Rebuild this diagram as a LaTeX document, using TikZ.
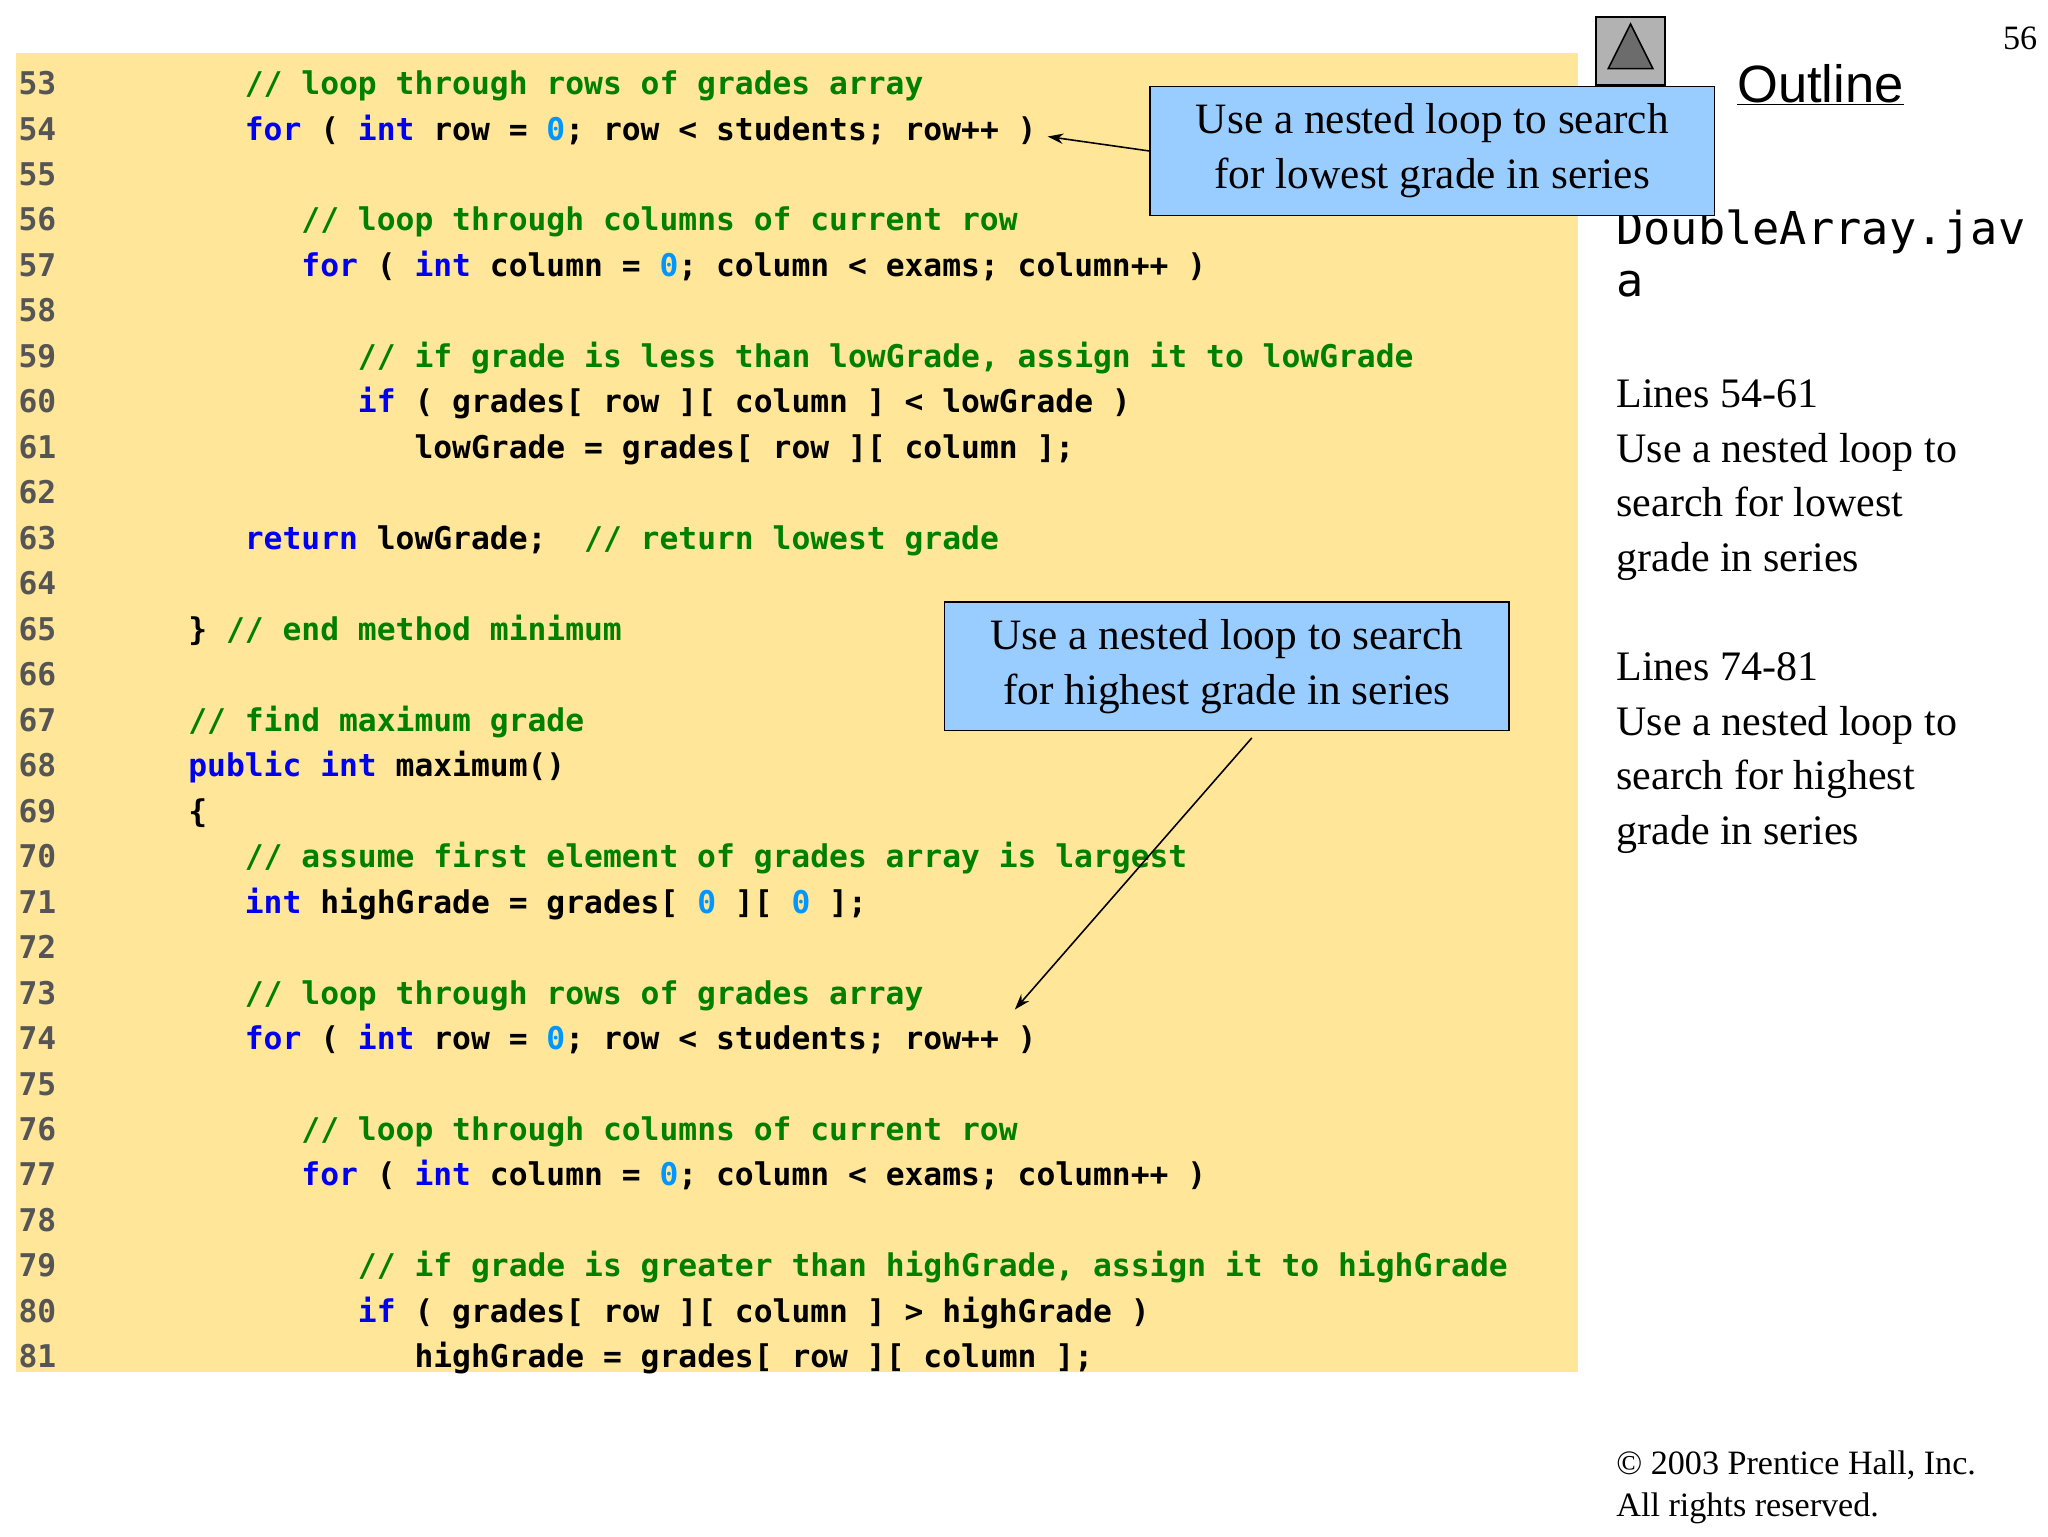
\documentclass[tikz,border=0pt]{standalone}
\usepackage{fontspec}
\setmainfont{Liberation Serif}
\setmonofont{DejaVu Sans Mono}
\newfontfamily\outlinefont{Liberation Sans}
\usetikzlibrary{arrows.meta,positioning}
\definecolor{codebg}{HTML}{FFE699}
\definecolor{calloutbg}{HTML}{99CCFF}
\definecolor{kwblue}{HTML}{0000F0}
\definecolor{numblue}{HTML}{0096FF}
\definecolor{cmgreen}{HTML}{008000}
\definecolor{lngray}{HTML}{555555}
\newcommand{\kw}[1]{\textcolor{kwblue}{#1}}
\newcommand{\nm}[1]{\textcolor{numblue}{#1}}
\newcommand{\cm}[1]{\textcolor{cmgreen}{#1}}
\newcommand{\codeline}[3]{%
  \node[codetext] (code#1) at ({14+#2*14.36},{72+(#1-53)*34.64}) {#3};}
\tikzset{
  codetext/.style={anchor=base west,inner sep=0pt,font=\fontsize{23.85}{28}\ttfamily\bfseries},
  callout/.style={draw,line width=1.2pt,fill=calloutbg,align=center,inner sep=0pt,
    minimum width=430pt,minimum height=98pt,font=\fontsize{33}{42}\selectfont},
  sidetext/.style={anchor=base west,inner sep=0pt,align=left,font=\fontsize{32}{41.5}\selectfont},
  note/.style={-{Stealth[length=12pt,width=8pt]},line width=1.2pt}
}
\begin{document}
\begin{tikzpicture}[x=1pt,y=-1pt]
\useasboundingbox (0,0) rectangle (1560,1170);
\fill[codebg] (12,40) rectangle (1202,1045);
\foreach \n in {53,...,81}
{
  \node[codetext,text=lngray] (ln\n) at (14,{72+(\n-53)*34.64}) {\n};
}
\codeline{53}{12}{\cm{// loop through rows of grades array}}
\codeline{54}{12}{\kw{for} ( \kw{int} row = \nm{0}; row < students; row++ )}
\codeline{56}{15}{\cm{// loop through columns of current row}}
\codeline{57}{15}{\kw{for} ( \kw{int} column = \nm{0}; column < exams; column++ )}
\codeline{59}{18}{\cm{// if grade is less than lowGrade, assign it to lowGrade}}
\codeline{60}{18}{\kw{if} ( grades[ row ][ column ] < lowGrade )}
\codeline{61}{21}{lowGrade = grades[ row ][ column ];}
\codeline{63}{12}{\kw{return} lowGrade;~ \cm{// return lowest grade}}
\codeline{65}{9}{\} \cm{// end method minimum}}
\codeline{67}{9}{\cm{// find maximum grade}}
\codeline{68}{9}{\kw{public} \kw{int} maximum()}
\codeline{69}{9}{\{}
\codeline{70}{12}{\cm{// assume first element of grades array is largest}}
\codeline{71}{12}{\kw{int} highGrade = grades[ \nm{0} ][ \nm{0} ];}
\codeline{73}{12}{\cm{// loop through rows of grades array}}
\codeline{74}{12}{\kw{for} ( \kw{int} row = \nm{0}; row < students; row++ )}
\codeline{76}{15}{\cm{// loop through columns of current row}}
\codeline{77}{15}{\kw{for} ( \kw{int} column = \nm{0}; column < exams; column++ )}
\codeline{79}{18}{\cm{// if grade is greater than highGrade, assign it to highGrade}}
\codeline{80}{18}{\kw{if} ( grades[ row ][ column ] > highGrade )}
\codeline{81}{21}{highGrade = grades[ row ][ column ];}
% outline icon and title
\node[draw,line width=1.5pt,fill=gray!60,minimum size=52pt,inner sep=0pt] (icon) at (1242,39) {};
\draw[line width=1.2pt,fill=gray!85!black] ([yshift=-6pt]icon.north) -- ([xshift=-17pt,yshift=-40pt]icon.north) -- ([xshift=17pt,yshift=-40pt]icon.north) -- cycle;
\node[anchor=base west,inner sep=0pt,font=\fontsize{40}{48}\outlinefont] (outline) at (1323,78) {\underline{Outline}};
\node[anchor=base east,inner sep=0pt,font=\fontsize{26}{30}\selectfont] (page) at (1552,38) {56};
% multi-line nodes: base is the last line
\node[anchor=base west,inner sep=0pt,align=left,font=\fontsize{34.5}{40}\ttfamily] (file) at (1231,226) {DoubleArray.jav\\a};
\node[sidetext] (side1) at (1231,435) {Lines 54-61\\Use a nested loop to\\search for lowest\\grade in series};
\node[sidetext] (side2) at (1231,643) {Lines 74-81\\Use a nested loop to\\search for highest\\grade in series};
\node[anchor=base west,inner sep=0pt,align=left,font=\fontsize{26}{32}\selectfont] (copy) at (1231,1155) {\textcopyright{} 2003 Prentice Hall, Inc.\\All rights reserved.};
% callouts
\node[callout] (low) at (1091,115) {Use a nested loop to search\\for lowest grade in series};
\node[callout] (high) at (934.5,507.5) {Use a nested loop to search\\for highest grade in series};
\coordinate (lowtip) at (798,104);
\coordinate (hightip) at (773,769);
\draw[note] (low.west) -- (lowtip);
\draw[note] ([xshift=19pt,yshift=-5pt]high.south) -- (hightip);
\end{tikzpicture}
\end{document}
